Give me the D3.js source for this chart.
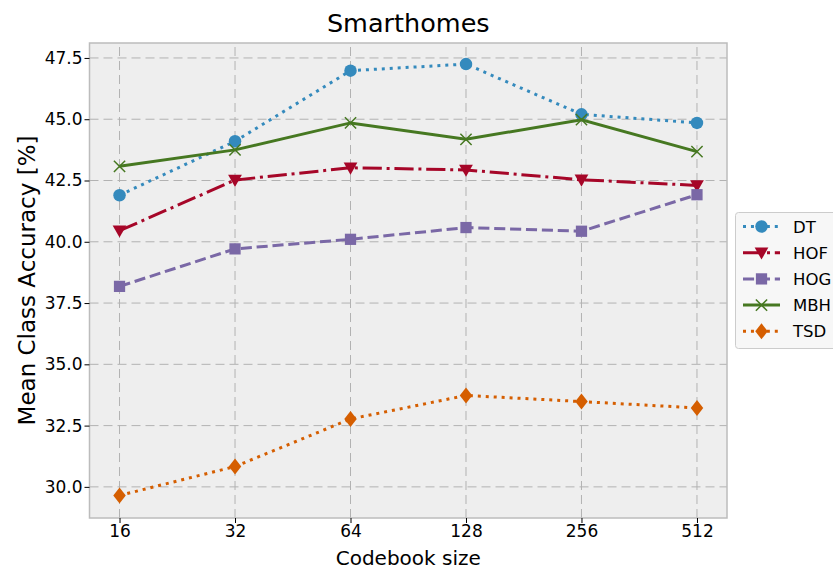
<!DOCTYPE html>
<html><head><meta charset="utf-8">
<script src="https://cdn.jsdelivr.net/npm/d3@7"></script>
<style>body{margin:0;background:#fff;}svg{display:block;font-family:"DejaVu Sans",sans-serif;}</style>
</head><body><svg id="c" width="833" height="569"></svg>
<script>
const categories = ["16","32","64","128","256","512"];
const dt  = [41.9, 44.1, 46.98, 47.25, 45.2, 44.85];
const hof = [40.45, 42.52, 43.02, 42.93, 42.53, 42.3];
const hog = [38.18, 39.71, 40.1, 40.58, 40.43, 41.92];
const mbh = [43.08, 43.75, 44.85, 44.18, 44.98, 43.68];
const tsd = [29.65, 30.83, 32.77, 33.73, 33.48, 33.22];
const yTicks = [30.0, 32.5, 35.0, 37.5, 40.0, 42.5, 45.0, 47.5];
const seriesNames = ["DT","HOF","HOG","MBH","TSD"];
const seriesData = [dt, hof, hog, mbh, tsd];
const colors = ["#348ABD","#A60628","#7A68A6","#467821","#D55E00"];
const dashes = ["3,4.95","19.2,4.8,3,4.8","11.1,4.8",null,"3,4.95"];
const markers = ["circle","tri","square","x","diamond"];

const svg = d3.select("#c");
const L=89.5, R=727, T=43, B=518;
const x = d3.scaleLinear().domain([-0.26, 5.26]).range([L,R]);
const y = d3.scaleLinear().domain([28.73, 48.11]).range([B,T]);

svg.append("rect").attr("x",L).attr("y",T).attr("width",R-L).attr("height",B-T).attr("fill","#eeeeee");
// grid
svg.append("g").selectAll("line").data(yTicks).join("line")
  .attr("x1",L).attr("x2",R).attr("y1",d=>y(d)).attr("y2",d=>y(d))
  .attr("stroke","#b2b2b2").attr("stroke-width",1).attr("stroke-dasharray","9,5");
svg.append("g").selectAll("line").data(categories).join("line")
  .attr("x1",(d,i)=>x(i)).attr("x2",(d,i)=>x(i)).attr("y1",B).attr("y2",T)
  .attr("stroke","#b2b2b2").attr("stroke-width",1).attr("stroke-dasharray","9,5");
svg.append("rect").attr("x",L).attr("y",T).attr("width",R-L).attr("height",B-T).attr("fill","none").attr("stroke","#bcbcbc").attr("stroke-width",1.5);

// axes
const yAxis = d3.axisLeft(y).tickValues(yTicks).tickFormat(d3.format(".1f")).tickSize(5).tickPadding(2);
const gy = svg.append("g").attr("transform",`translate(${L},0)`).call(yAxis);
gy.select(".domain").remove();
gy.selectAll("text").attr("font-size",17).attr("fill","#000").attr("font-family","DejaVu Sans");
gy.selectAll("line").attr("stroke","#000");
const xAxis = d3.axisBottom(x).tickValues(d3.range(categories.length)).tickFormat(i=>categories[i]).tickSize(5).tickPadding(2);
const gx = svg.append("g").attr("transform",`translate(0,${B})`).call(xAxis);
gx.select(".domain").remove();
gx.selectAll("text").attr("font-size",17).attr("fill","#000").attr("font-family","DejaVu Sans");
gx.selectAll("line").attr("stroke","#000");

svg.append("text").attr("x",(L+R)/2).attr("y",32).attr("text-anchor","middle").attr("font-size",25.5).text("Smarthomes");
svg.append("text").attr("x",(L+R)/2).attr("y",565).attr("text-anchor","middle").attr("font-size",20).text("Codebook size");
svg.append("text").attr("transform",`translate(35,${(T+B)/2}) rotate(-90)`).attr("text-anchor","middle").attr("font-size",23).text("Mean Class Accuracy [%]");

function marker(g, type, cx, cy, color, s){
  if(type==="circle") g.append("circle").attr("cx",cx).attr("cy",cy).attr("r",s*0.5).attr("fill",color);
  else if(type==="square") g.append("rect").attr("x",cx-s*0.45).attr("y",cy-s*0.45).attr("width",s*0.9).attr("height",s*0.9).attr("fill",color);
  else if(type==="tri") g.append("path").attr("d",`M${cx-s*0.55},${cy-s*0.42}L${cx+s*0.55},${cy-s*0.42}L${cx},${cy+s*0.55}Z`).attr("fill",color);
  else if(type==="diamond") g.append("path").attr("d",`M${cx},${cy-s*0.64}L${cx+s*0.5},${cy}L${cx},${cy+s*0.64}L${cx-s*0.5},${cy}Z`).attr("fill",color);
  else if(type==="x") g.append("path").attr("d",`M${cx-s*0.45},${cy-s*0.45}L${cx+s*0.45},${cy+s*0.45}M${cx-s*0.45},${cy+s*0.45}L${cx+s*0.45},${cy-s*0.45}`).attr("stroke",color).attr("stroke-width",1.5).attr("fill","none");
}

const line = d3.line().x((d,i)=>x(i)).y(d=>y(d));
seriesData.forEach((data,k)=>{
  const g = svg.append("g");
  const p = g.append("path").datum(data).attr("d",line).attr("fill","none").attr("stroke",colors[k]).attr("stroke-width",3);
  if(dashes[k]) p.attr("stroke-dasharray",dashes[k]);
  data.forEach((v,i)=>marker(g, markers[k], x(i), y(v), colors[k], 12.5));
});

// legend
const lg = svg.append("g");
lg.append("rect").attr("x",735.5).attr("y",212.5).attr("width",110).attr("height",136).attr("rx",3)
  .attr("fill","#f7f7f7").attr("stroke","#cccccc").attr("stroke-width",1);
seriesNames.forEach((n,k)=>{
  const cy = 226.5 + k*26.2;
  const l = lg.append("line").attr("x1",743).attr("x2",780).attr("y1",cy).attr("y2",cy).attr("stroke",colors[k]).attr("stroke-width",3);
  if(dashes[k]) l.attr("stroke-dasharray",dashes[k]);
  marker(lg, markers[k], 761.5, cy, colors[k], 12.5);
  lg.append("text").attr("x",793).attr("y",cy+6).attr("font-size",16.5).text(n);
});
</script></body></html>
